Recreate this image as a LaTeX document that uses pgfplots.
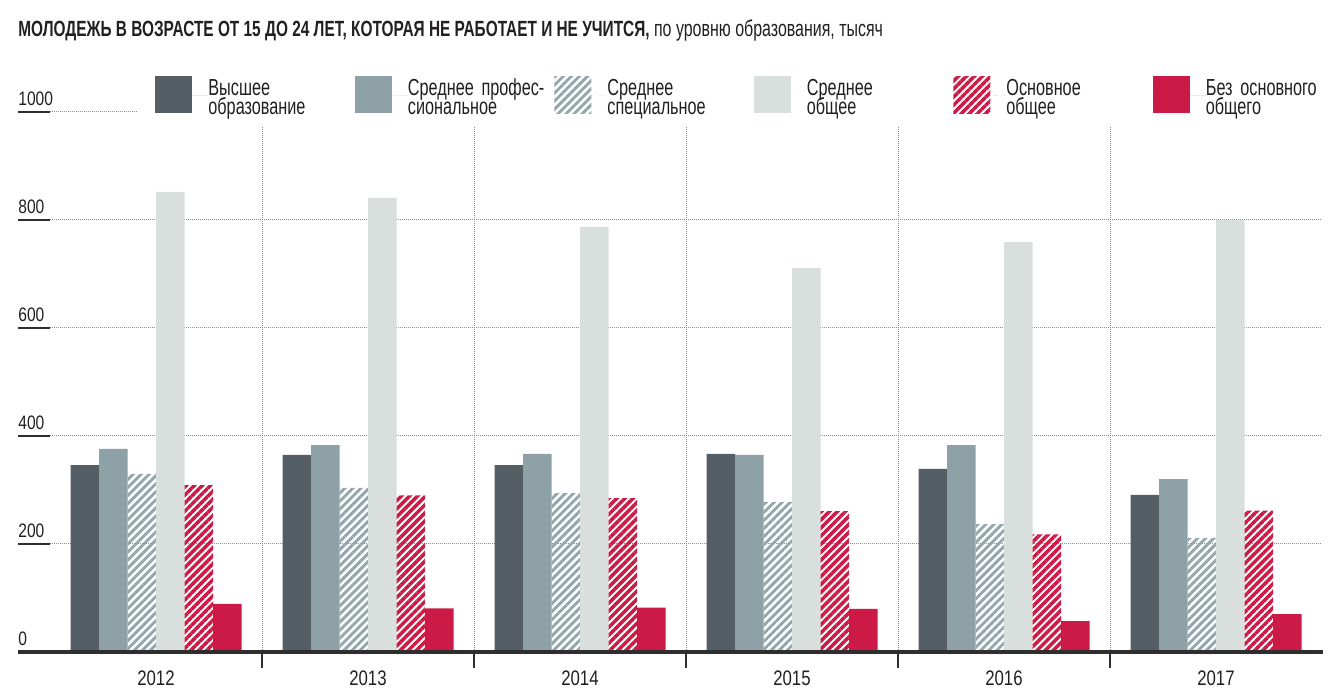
\documentclass[border=0pt]{standalone}
\usepackage{pgfplots}
\pgfplotsset{compat=1.18}
\usepackage{pgfplotstable}
\usetikzlibrary{patterns.meta}
\usepackage{fontspec}
\setmainfont{Liberation Sans}
\newfontfamily\condtext{Liberation Sans}[FakeStretch=0.7]
\newfontfamily\condnum{Liberation Sans}[FakeStretch=0.8]
\newcommand\legfont{\condtext\fontsize{11.6pt}{9.65pt}\selectfont\setlength{\lineskiplimit}{-100pt}}
\definecolor{cDark}{HTML}{565E65}
\definecolor{cProf}{HTML}{8DA1A7}
\definecolor{cSpec}{HTML}{93A6AC}
\definecolor{cObsh}{HTML}{D9DFDC}
\definecolor{cRed}{HTML}{CC1A47}
\definecolor{cAxis}{HTML}{2E2E2E}
\definecolor{cText}{HTML}{231F20}
\definecolor{cGrid}{HTML}{8A8A8A}

\pgfplotstableread{
x vys prof spec obsh osn bez
0 346 376 330 852 309 89
1 365 383 304 841 290 81
2 346 367 294 787 285 82
3 367 365 278 711 261 80
4 339 383 237 759 218 57
5 291 320 211 800 262 70
}\data

\begin{document}
\begin{tikzpicture}
\useasboundingbox (-25pt,-22pt) rectangle (642.5pt,326pt);
\node[anchor=base west, inner sep=0pt, text=cText] at (-16pt,307.5pt)
  {\condtext\fontsize{11pt}{12pt}\selectfont\bfseries МОЛОДЕЖЬ В ВОЗРАСТЕ ОТ 15 ДО 24 ЛЕТ, КОТОРАЯ НЕ РАБОТАЕТ И НЕ УЧИТСЯ,\mdseries\fontsize{11.4pt}{12pt}\selectfont{} по уровню образования, тысяч};
\begin{axis}[
  at={(0,0)}, anchor=south west,
  scale only axis, width=636pt, height=270pt,
  xmin=-0.5, xmax=5.5, ymin=0, ymax=1000,
  ybar=0pt, bar width=14.25pt,
  clip=false,
  axis line style={draw=none},
  major tick length=0pt, minor tick length=0pt,
  xtick={0,1,2,3,4,5},
  xticklabels={2012,2013,2014,2015,2016,2017},
  minor xtick={0.5,1.5,2.5,3.5,4.5},
  xminorgrids=true,
  ytick={0,200,400,600,800,1000},
  yticklabels={0,200,400,600,800,1000},
  ymajorgrids=true,
  major grid style={cGrid, line width=0.5pt, dash pattern=on 0.5pt off 0.5pt},
  minor grid style={cGrid, line width=0.5pt, dash pattern=on 0.5pt off 0.5pt},
  xticklabel style={font=\condnum\fontsize{10.5pt}{12pt}\selectfont, text=cText, inner sep=0pt, anchor=north, yshift=-9pt},
  yticklabel style={font=\condnum\fontsize{9.75pt}{11pt}\selectfont, text=cText, inner sep=0pt, anchor=south west, xshift=-16pt, yshift=3pt},
  every axis plot post/.append style={
    legend image code/.code={\fill[##1] (0pt,-9pt) rectangle (18.5pt,9.5pt); \path (0pt,0pt) -- (26.5pt,0pt);}
  },
  legend columns=6,
  legend cell align=left,
  legend style={at={(0.0684,1.0815)}, anchor=north west, draw=none, fill=white,
    inner xsep=9pt, inner ysep=4pt,
    /tikz/column sep=0pt,
    cells={anchor=base west},
    nodes={inner sep=0pt, text width=73.25pt, align=left, text depth=, text=cText,
      font=\legfont},
  },
]
\addplot[fill=cDark, draw=none] table[x=x,y=vys]{\data};
\addlegendentry{Высшее\\образование}
\addplot[fill=cProf, draw=none] table[x=x,y=prof]{\data};
\addlegendentry{Среднее профес-\\сиональное}
\addplot[draw=none, pattern={Lines[angle=45,distance=2.85pt,line width=1.45pt]}, pattern color=cSpec] table[x=x,y=spec]{\data};
\addlegendentry{Среднее\\специальное}
\addplot[fill=cObsh, draw=none] table[x=x,y=obsh]{\data};
\addlegendentry{Среднее\\общее}
\addplot[draw=none, pattern={Lines[angle=45,distance=2.85pt,line width=1.75pt]}, pattern color=cRed] table[x=x,y=osn]{\data};
\addlegendentry{Основное\\общее}
\addplot[fill=cRed, draw=none] table[x=x,y=bez]{\data};
\addlegendentry{Без основного\\общего}
\draw[line width=1pt, cAxis]
  (axis cs:-0.651,200) -- (axis cs:-0.5,200)
  (axis cs:-0.651,400) -- (axis cs:-0.5,400)
  (axis cs:-0.651,600) -- (axis cs:-0.5,600)
  (axis cs:-0.651,800) -- (axis cs:-0.5,800)
  (axis cs:-0.651,1000) -- (axis cs:-0.5,1000);
\draw[line width=0.75pt, cAxis]
  (axis cs:0.5,0) -- ++(0pt,-8pt)
  (axis cs:1.5,0) -- ++(0pt,-8pt)
  (axis cs:2.5,0) -- ++(0pt,-8pt)
  (axis cs:3.5,0) -- ++(0pt,-8pt)
  (axis cs:4.5,0) -- ++(0pt,-8pt);
\draw[line width=1.65pt, cAxis] (axis cs:-0.651,0) -- (axis cs:5.505,0);
\end{axis}
\end{tikzpicture}
\end{document}
